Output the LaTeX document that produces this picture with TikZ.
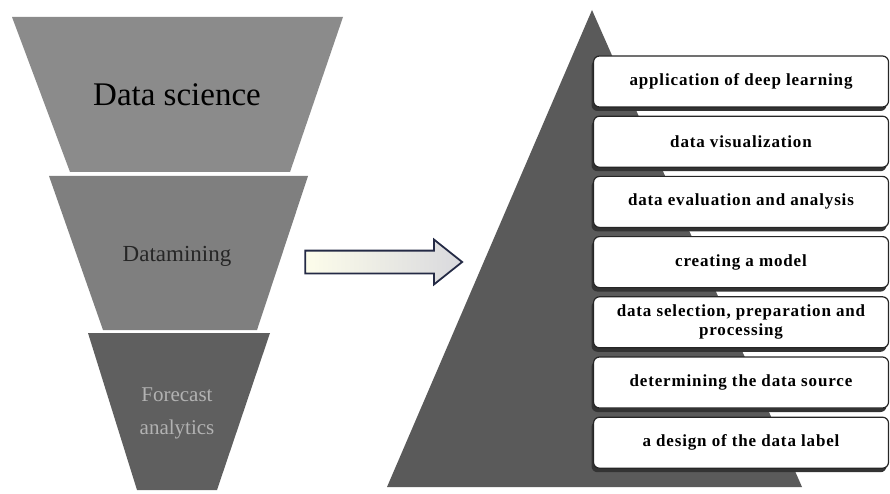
\documentclass[tikz,border=0pt]{standalone}
\usepackage{fontspec}
\setmainfont{Liberation Serif}
\newfontfamily\stagefont[LetterSpace=5]{Liberation Serif}
\usetikzlibrary{shapes.arrows,shadows}
\definecolor{funnelA}{HTML}{8B8B8B}
\definecolor{funnelB}{HTML}{7F7F7F}
\definecolor{funnelC}{HTML}{5F5F5F}
\definecolor{pyramid}{HTML}{5A5A5A}
\definecolor{arrowline}{HTML}{242A45}

\begin{document}
\begin{tikzpicture}[x=1pt,y=-1pt,
	stage/.style={draw=black!85, line width=1.2pt, fill=white, rounded corners=6pt,
		minimum width=295pt, minimum height=51pt, align=center, inner sep=2pt,
		font=\fontsize{17}{19}\stagefont\bfseries,
		drop shadow={shadow xshift=-2pt, shadow yshift=-4pt, fill=black!80, opacity=1}},
	level/.style={align=center, inner sep=0pt}]
		\useasboundingbox (0,0) rectangle (890,494);
		\fill[funnelA] (12,17) -- (343,17) -- (290,172) -- (70,172) -- cycle;
		\fill[funnelB] (49,176) -- (308,176) -- (257,330) -- (103,330) -- cycle;
		\fill[funnelC] (88,333) -- (270,333) -- (217,490) -- (137,490) -- cycle;
		\node[level, font=\fontsize{33}{33}\selectfont] (ds) at (177,95) {Data science};
		\node[level, text=black!85, font=\fontsize{23}{23}\selectfont] (dm) at (177,256) {Datamining};
		\node[level, text=black!30, font=\fontsize{21}{33}\selectfont] (fa) at (177,413) {Forecast\\analytics};
		\node[single arrow, draw=arrowline, line width=1.8pt, left color=black!12!yellow!8!white,
			right color=blue!12!black!15!white, minimum height=157pt, inner xsep=0pt, inner ysep=10.5pt,
			single arrow head extend=11pt, single arrow tip angle=77] (arr) at (376.5,262) {};
		\fill[pyramid] (592,10) -- (802,487) -- (387,487) -- cycle;
		\foreach \i/\txt in {0/application of deep learning, 1/data visualization,
			2/data evaluation and analysis, 3/creating a model,
			4/{data selection, preparation and\\processing}, 5/determining the data source,
			6/a design of the data label}
			\node[stage] (s\i) at (741,81.5+60.2*\i) {\txt};
	\end{tikzpicture}
\end{document}
